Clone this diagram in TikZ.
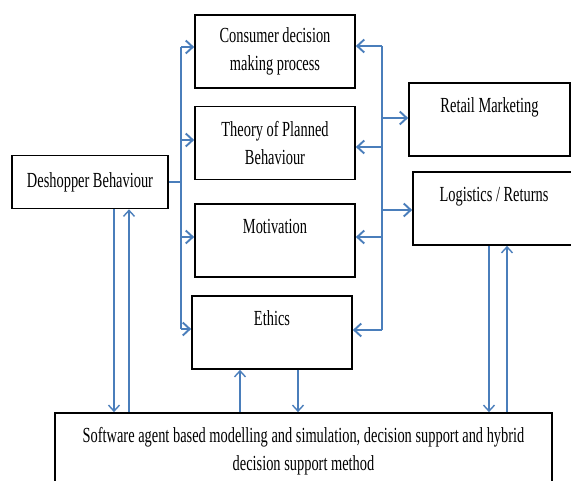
\documentclass[tikz,border=0pt]{standalone}
\usepackage{fontspec}
\setmainfont{Liberation Serif}[FakeStretch=0.67]
\usetikzlibrary{arrows.meta}
\definecolor{lineblue}{RGB}{74,126,187}
\begin{document}
\begin{tikzpicture}[x=1pt,y=-1pt,
  box/.style={draw=black, line width=1.7pt, inner sep=0pt, align=center,
    font=\fontsize{21.5}{28.5}\selectfont},
  bus/.style={draw=lineblue, line width=1.9pt},
  arr/.style={draw=lineblue, line width=1.9pt, -{Straight Barb[length=7pt,width=13pt]}},
  varr/.style={draw=lineblue, line width=1.4pt, -{Straight Barb[length=6pt,width=11pt]}}]
\useasboundingbox (0,0) rectangle (571,481);
\clip (0,0) rectangle (571,481);
\fill[white] (0,0) rectangle (571,481);
% boxes
\node[box, minimum width=160pt, minimum height=73pt] (cons) at (275,51.5) {Consumer decision\\making process};
\node[box, minimum width=160pt, minimum height=73pt] (tpb) at (275,143) {Theory of Planned\\Behaviour};
\node[box, minimum width=160pt, minimum height=73pt] (mot) at (275,240.5) {Motivation\\\mbox{}};
\node[box, minimum width=160pt, minimum height=73pt] (eth) at (272,332.5) {Ethics\\\mbox{}};
\node[box, minimum width=156pt, minimum height=53pt] (desh) at (90,182) {Deshopper Behaviour};
\node[box, minimum width=161pt, minimum height=73pt] (ret) at (489.5,119.5) {Retail Marketing\\\mbox{}};
\node[box, minimum width=162pt, minimum height=73pt] (log) at (494,208.5) {Logistics / Returns\\\mbox{}};
\node[box, minimum width=497pt, minimum height=76pt] (soft) at (303.5,451) {Software agent based modelling and simulation, decision support and hybrid\\decision support method};
% left bus
\coordinate (lj) at (181,182);
\coordinate (l1) at (181,47);
\coordinate (l2) at (181,140);
\coordinate (l3) at (181,237);
\coordinate (l4) at (181,329);
\draw[bus] (desh.east) -- (lj);
\draw[bus] (l1) -- (l4);
\draw[arr] (l1) -- (cons.west |- l1);
\draw[arr] (l2) -- (tpb.west |- l2);
\draw[arr] (l3) -- (mot.west |- l3);
\draw[arr] (l4) -- (eth.west |- l4);
% right bus
\coordinate (r1) at (382,46);
\coordinate (r2) at (382,147);
\coordinate (r3) at (382,237);
\coordinate (r4) at (382,330);
\coordinate (r5) at (382,118);
\coordinate (r6) at (382,210);
\draw[bus] (r1) -- (r4);
\draw[arr] (r1) -- (cons.east |- r1);
\draw[arr] (r2) -- (tpb.east |- r2);
\draw[arr] (r3) -- (mot.east |- r3);
\draw[arr] (r4) -- (eth.east |- r4);
\draw[arr] (r5) -- (ret.west |- r5);
\draw[arr] (r6) -- (log.west |- r6);
% verticals
\coordinate (d1) at (114,0);
\coordinate (d2) at (129,0);
\coordinate (e1) at (240,0);
\coordinate (e2) at (298,0);
\coordinate (g1) at (489,0);
\coordinate (g2) at (507,0);
\draw[varr] (desh.south -| d1) -- (soft.north -| d1);
\draw[varr] (soft.north -| d2) -- (desh.south -| d2);
\draw[varr] (soft.north -| e1) -- (eth.south -| e1);
\draw[varr] (eth.south -| e2) -- (soft.north -| e2);
\draw[varr] (log.south -| g1) -- (soft.north -| g1);
\draw[varr] (soft.north -| g2) -- (log.south -| g2);
\end{tikzpicture}
\end{document}
